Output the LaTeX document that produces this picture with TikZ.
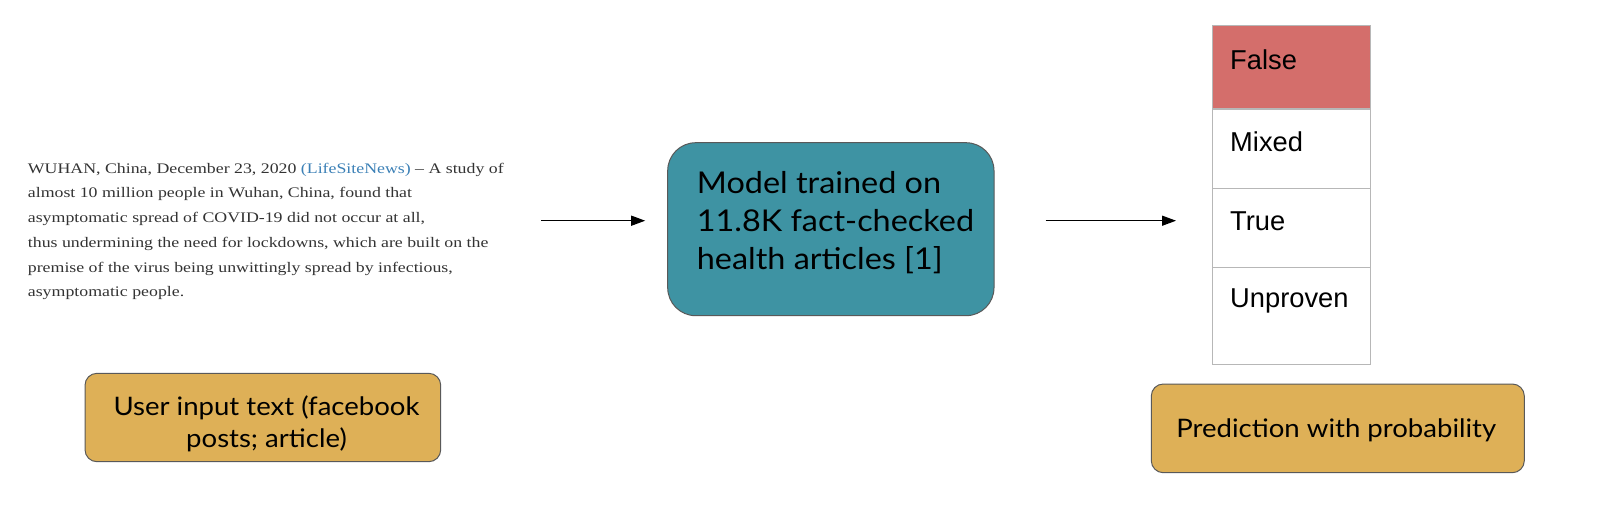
\documentclass[tikz,border=0pt]{standalone}
\usepackage{fontspec}
\usetikzlibrary{arrows.meta,calc}
\setmainfont{Lato}
\newfontfamily\nunito[FakeStretch=1.08]{Lato}
\newfontfamily\serifgeo[FakeStretch=1.22]{Liberation Serif}
\newfontfamily\arialf{Liberation Sans}
\definecolor{boxteal}{HTML}{3E93A3}
\definecolor{boxgold}{HTML}{DEB057}
\definecolor{cellred}{HTML}{D46E6B}
\definecolor{cellline}{HTML}{B7B7B7}
\definecolor{boxline}{HTML}{595959}
\definecolor{bodytext}{HTML}{333333}
\definecolor{linkblue}{HTML}{3B80B6}
\begin{document}
\begin{tikzpicture}[x=1pt,y=-1pt,
  goldbox/.style={draw=boxline, line width=1pt, fill=boxgold, rounded corners=12pt, inner sep=0pt},
  cell/.style={draw=cellline, line width=1.3pt, minimum width=158pt, inner sep=0pt},
  celltext/.style={anchor=base west, inner sep=0pt, font=\arialf\fontsize{27.3}{30}\selectfont},
  conn/.style={draw=black, line width=1.3pt, -{Triangle[length=14pt,width=10pt]}}
]
\useasboundingbox (0,0) rectangle (1600,509);

% input article text (base anchor = last line)
\node[anchor=base west, inner sep=0pt, align=left, text=bodytext,
      font=\serifgeo\fontsize{14.6}{24.7}\selectfont] (article) at (27.7,296.7)
  {WUHAN, China, December 23, 2020 {\color{linkblue}(LifeSiteNews)} – A study of\\
   almost 10 million people in Wuhan, China, found that\\
   asymptomatic spread of COVID-19 did not occur at all,\\
   thus undermining the need for lockdowns, which are built on the\\
   premise of the virus being unwittingly spread by infectious,\\
   asymptomatic people.};

% model box
\node[draw=boxline, line width=1pt, fill=boxteal, rounded corners=28pt,
      minimum width=326.3pt, minimum height=173pt, inner sep=0pt] (model) at (830.85,229.2) {};
\node[anchor=base west, inner sep=0pt, align=left, font=\nunito\fontsize{30}{38}\selectfont] (modeltext)
  at (696.7,269.3) {Model trained on\\11.8K fact-checked\\health articles [1]};

% user input box
\node[goldbox, minimum width=355.7pt, minimum height=88.4pt] (userbox) at (262.85,417.5) {};
\node[anchor=base, inner sep=0pt, align=center, font=\nunito\fontsize{25.5}{32}\selectfont] (usertext)
  at (266.5,447) {User input text (facebook\\posts; article)};

% prediction table
\node[cell, fill=cellred, minimum height=83.3pt] (falsec) at (1291.7,67.35) {};
\node[cell, minimum height=79.3pt] (mixedc) at (1291.7,148.65) {};
\node[cell, minimum height=79pt] (truec) at (1291.7,227.8) {};
\node[cell, minimum height=97pt] (unprovenc) at (1291.7,315.8) {};
\node[celltext] (falset) at (1230,69) {False};
\node[celltext] (mixedt) at (1230,151.7) {Mixed};
\node[celltext] (truet) at (1230,230.7) {True};
\node[celltext] (unprovent) at (1230,307.3) {Unproven};

% prediction box
\node[goldbox, minimum width=373pt, minimum height=88.7pt] (predbox) at (1337.8,428.35) {};
\node[anchor=base, inner sep=0pt, font=\nunito\fontsize{25.5}{28}\selectfont] (predtext)
  at (1336.3,437.3) {Prediction with probability};

% connectors
\coordinate (a1s) at (541,220.7);
\draw[conn, shorten >=22pt] (a1s) -- (model.west |- a1s);
\draw[conn, shorten <=51pt, shorten >=36pt] (model.east |- a1s) -- (truec.west |- a1s);
\end{tikzpicture}
\end{document}
